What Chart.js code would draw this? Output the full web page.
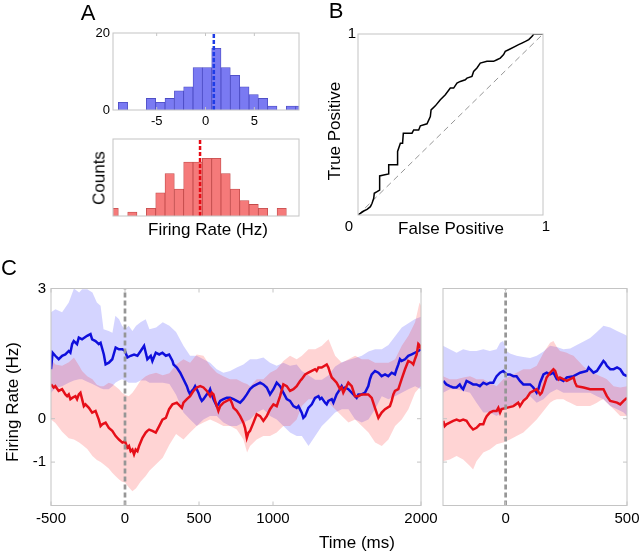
<!DOCTYPE html>
<html>
<head>
<meta charset="utf-8">
<title>Firing rate figure</title>
<script src="https://cdn.jsdelivr.net/npm/chart.js@4.4.1/dist/chart.umd.min.js"></script>
<style>
  html, body { margin: 0; padding: 0; background: #fff; }
  #fig { position: relative; width: 640px; height: 554px; overflow: hidden;
         font-family: "Liberation Sans", Arial, Helvetica, sans-serif; color: #000; }
  #fig canvas { position: absolute; left: 0; top: 0; }
  .lbl { position: absolute; white-space: nowrap; line-height: 1; transform: translate(-50%, -50%); }
  .rot { transform: translate(-50%, -50%) rotate(-90deg); }
  .panel { font-size: 22px; }
  .title { font-size: 17px; }
  .tick { font-size: 15px; }
</style>
</head>
<body>
<div id="fig">
  <canvas id="histBlue" width="640" height="554"></canvas>
  <canvas id="histRed" width="640" height="554"></canvas>
  <canvas id="roc" width="640" height="554"></canvas>
  <canvas id="rateLong" width="640" height="554"></canvas>
  <canvas id="rateShort" width="640" height="554"></canvas>

  <div class="lbl panel" style="left:88px;top:13px">A</div>
  <div class="lbl panel" style="left:336px;top:11px">B</div>
  <div class="lbl panel" style="left:9px;top:268px">C</div>
  <div class="lbl title rot" style="left:99px;top:178px">Counts</div>
  <div class="lbl title" style="left:208px;top:229px">Firing Rate (Hz)</div>
  <div class="lbl title rot" style="left:334px;top:131px">True Positive</div>
  <div class="lbl title" style="left:451px;top:228px">False Positive</div>
  <div class="lbl tick" style="left:349px;top:225px">0</div>
  <div class="lbl title rot" style="left:12px;top:402px">Firing Rate (Hz)</div>
  <div class="lbl title" style="left:357px;top:542px">Time (ms)</div>
</div>

<script>
// ---- Panel A: histograms (counts per firing-rate bin) ----
const binCenters = [-9.40, -8.45, -7.49, -6.54, -5.58, -4.62, -3.67, -2.71, -1.76, -0.80, 0.15,
                    1.11, 2.06, 3.02, 3.98, 4.93, 5.89, 6.84, 7.80, 8.75, 9.71];
const blueCounts = [0, 2, 0, 0, 3, 2, 3, 5, 6, 11, 11, 16, 11, 9, 6, 4, 3, 1, 0, 1, 1];
const redCounts  = [2, 0, 1, 0, 2, 6, 11, 7, 14, 14, 15, 15, 11, 7, 4, 3, 2, 0, 2, 0, 0];
const blueMean = 0.85;
const redMean = -0.56;
const histTicksX = [-5, 0, 5];
const histTicksY = [0, 20];

// ---- Panel B: ROC curve ----
const rocFP = [0, 0.013, 0.031, 0.049, 0.067, 0.076, 0.085, 0.088, 0.103, 0.117, 0.117, 0.139, 0.166, 0.166,
  0.214, 0.214, 0.229, 0.241, 0.245, 0.292, 0.301, 0.328, 0.337, 0.373, 0.391, 0.395, 0.418, 0.445, 0.472,
  0.499, 0.517, 0.535, 0.553, 0.580, 0.589, 0.616, 0.625, 0.643, 0.661, 0.697, 0.733, 0.751, 0.769, 0.787,
  0.796, 0.814, 0.850, 0.868, 0.886, 0.905, 0.923, 0.941, 0.950, 1.0];
const rocTP = [0, 0.009, 0.022, 0.031, 0.046, 0.065, 0.092, 0.120, 0.129, 0.138, 0.216, 0.221, 0.227, 0.277,
  0.277, 0.351, 0.397, 0.397, 0.452, 0.452, 0.470, 0.470, 0.493, 0.504, 0.544, 0.581, 0.603, 0.637, 0.664,
  0.701, 0.701, 0.729, 0.738, 0.747, 0.756, 0.766, 0.793, 0.812, 0.839, 0.849, 0.849, 0.858, 0.867, 0.886,
  0.904, 0.913, 0.932, 0.941, 0.950, 0.959, 0.969, 0.987, 1.0, 1.0];

// ---- Panel C left: -500..2000 ms ----
const blueT = [-500, -489, -471, -448, -425, -403, -380, -369, -357, -346, -324, -312, -290, -256, -233, -222,
  -199, -177, -165, -143, -131, -109, -86, -63, -41, -18, 0, 16, 38, 61, 84, 106, 129, 151, 174, 185, 208,
  231, 253, 276, 298, 321, 328, 350, 373, 395, 418, 429, 440, 451, 463, 474, 485, 496, 508, 519, 530, 553,
  564, 575, 586, 598, 609, 620, 631, 643, 665, 688, 710, 733, 755, 778, 800, 823, 845, 868, 890, 913, 935,
  958, 980, 1003, 1025, 1048, 1059, 1070, 1093, 1115, 1138, 1160, 1172, 1194, 1205, 1217, 1239, 1262, 1284,
  1307, 1318, 1329, 1352, 1363, 1374, 1397, 1408, 1430, 1453, 1464, 1475, 1487, 1509, 1543, 1565, 1577,
  1599, 1622, 1644, 1655, 1667, 1689, 1712, 1734, 1757, 1779, 1802, 1824, 1835, 1847, 1858, 1869, 1892,
  1914, 1937, 1959, 1982, 2000];
const blueV = [1.14, 1.52, 1.45, 1.37, 1.45, 1.48, 1.56, 1.52, 1.72, 1.79, 1.72, 1.87, 1.83, 1.91, 1.95, 1.83,
  1.79, 1.72, 1.75, 1.48, 1.25, 1.29, 1.37, 1.64, 1.60, 1.60, 1.56, 1.41, 1.45, 1.48, 1.45, 1.56, 1.68, 1.37,
  1.45, 1.33, 1.52, 1.48, 1.52, 1.45, 1.48, 1.33, 1.25, 1.18, 1.06, 0.91, 0.75, 0.64, 0.56, 0.64, 0.68, 0.75,
  0.68, 0.60, 0.48, 0.41, 0.45, 0.56, 0.60, 0.68, 0.56, 0.45, 0.37, 0.29, 0.33, 0.41, 0.45, 0.48, 0.48, 0.45,
  0.41, 0.37, 0.45, 0.56, 0.68, 0.75, 0.79, 0.83, 0.79, 0.72, 0.56, 0.68, 0.83, 0.75, 0.68, 0.60, 0.45, 0.41,
  0.29, 0.25, 0.29, 0.14, 0.02, 0.06, 0.25, 0.33, 0.48, 0.52, 0.45, 0.48, 0.37, 0.33, 0.41, 0.45, 0.37, 0.56,
  0.68, 0.75, 0.68, 0.72, 0.68, 0.56, 0.48, 0.56, 0.56, 0.60, 0.75, 0.91, 1.02, 1.10, 1.06, 0.98, 1.02, 0.98,
  1.06, 1.02, 1.14, 1.25, 1.37, 1.33, 1.37, 1.45, 1.48, 1.52, 1.56, 1.60];
const redT = [-500, -482, -471, -448, -425, -403, -391, -380, -369, -357, -335, -324, -312, -301, -290, -278,
  -267, -244, -222, -199, -177, -165, -154, -131, -109, -86, -63, -41, -18, 0, 16, 27, 38, 50, 61, 72, 84, 95,
  118, 140, 151, 163, 185, 208, 231, 253, 276, 298, 321, 350, 384, 395, 418, 440, 463, 485, 508, 530, 553,
  575, 586, 598, 609, 631, 643, 665, 710, 721, 733, 755, 778, 800, 811, 823, 834, 845, 868, 890, 913, 935,
  958, 980, 1003, 1025, 1048, 1070, 1093, 1115, 1138, 1160, 1183, 1194, 1217, 1239, 1262, 1284, 1295, 1307,
  1329, 1363, 1374, 1385, 1397, 1408, 1430, 1453, 1464, 1475, 1487, 1509, 1532, 1554, 1577, 1599, 1644,
  1667, 1689, 1712, 1734, 1757, 1790, 1802, 1813, 1824, 1847, 1869, 1892, 1914, 1937, 1948, 1959, 1971,
  1982, 1993, 2000];
const redV = [0.79, 0.72, 0.75, 0.64, 0.68, 0.56, 0.52, 0.56, 0.45, 0.48, 0.52, 0.45, 0.56, 0.60, 0.45, 0.29,
  0.33, 0.25, 0.14, 0.18, -0.02, -0.17, -0.13, -0.09, -0.21, -0.28, -0.40, -0.48, -0.55, -0.52, -0.67, -0.63,
  -0.75, -0.71, -0.82, -0.71, -0.75, -0.63, -0.44, -0.32, -0.28, -0.25, -0.28, -0.32, -0.17, -0.02, 0.02,
  0.22, 0.33, 0.37, 0.25, 0.37, 0.45, 0.52, 0.64, 0.72, 0.75, 0.72, 0.64, 0.52, 0.60, 0.56, 0.41, 0.18, 0.29,
  0.37, 0.45, 0.37, 0.25, 0.18, 0.06, -0.09, -0.21, -0.44, -0.32, -0.28, -0.09, 0.10, 0.06, -0.05, 0.06, 0.22,
  0.33, 0.29, 0.52, 0.79, 0.75, 0.64, 0.68, 0.75, 0.87, 0.91, 1.02, 1.06, 1.10, 1.14, 1.10, 1.18, 1.18, 1.25,
  1.18, 1.06, 0.95, 0.91, 0.83, 0.68, 0.72, 0.60, 0.68, 0.83, 0.75, 0.52, 0.52, 0.56, 0.56, 0.48, 0.25, 0.02,
  0.14, 0.22, 0.29, 0.41, 0.56, 0.64, 0.68, 0.91, 1.14, 1.33, 1.29, 1.25, 1.37, 1.48, 1.72, 1.68, 1.60];

const blueBandT = [-500, -470, -425, -380, -345, -310, -290, -255, -220, -190, -165, -145, -110, -85, -65, -40,
  -20, 0, 25, 50, 75, 105, 140, 165, 210, 255, 300, 345, 395, 440, 485, 530, 575, 620, 665, 710, 755, 800,
  845, 890, 935, 980, 1025, 1070, 1115, 1160, 1195, 1240, 1285, 1330, 1375, 1420, 1465, 1510, 1555, 1600,
  1645, 1690, 1735, 1780, 1825, 1870, 1915, 1960, 2000];
const blueHi = [2.45, 2.52, 2.45, 2.68, 3.00, 2.91, 2.98, 2.98, 2.91, 2.68, 2.60, 2.06, 2.02, 1.98, 2.37, 2.29,
  2.14, 2.06, 2.14, 2.02, 2.14, 2.22, 2.29, 2.06, 2.10, 2.22, 2.14, 2.00, 1.68, 1.45, 1.45, 1.37, 1.29, 1.14,
  1.06, 1.10, 1.18, 1.25, 1.37, 1.37, 1.41, 1.29, 1.22, 1.29, 1.22, 1.25, 1.10, 1.00, 0.90, 0.90, 1.00, 1.20,
  1.30, 1.35, 1.40, 1.45, 1.55, 1.60, 1.60, 1.70, 1.90, 2.10, 2.20, 2.30, 2.35];
const blueLo = [0.60, 0.70, 0.75, 0.83, 0.88, 0.91, 0.91, 0.85, 0.80, 0.75, 0.70, 0.68, 0.68, 0.75, 0.83, 0.88,
  0.91, 0.88, 0.83, 0.83, 0.83, 0.88, 0.88, 0.83, 0.83, 0.83, 0.80, 0.55, 0.14, -0.02, -0.17, -0.02, 0.06,
  0.06, -0.09, -0.17, -0.17, -0.09, -0.02, 0.14, 0.22, 0.06, -0.02, -0.17, -0.32, -0.40, -0.40, -0.63, -0.40,
  -0.17, -0.02, 0.14, 0.22, 0.22, -0.02, -0.09, -0.02, 0.22, 0.52, 0.45, 0.52, 0.60, 0.68, 0.75, 0.68];

const redBandT = [-500, -470, -425, -380, -345, -310, -290, -255, -220, -190, -165, -145, -110, -85, -65, -40,
  -20, 0, 25, 50, 75, 105, 140, 165, 210, 255, 300, 345, 395, 440, 485, 530, 575, 620, 665, 710, 755, 800,
  825, 845, 890, 935, 980, 1025, 1070, 1115, 1160, 1195, 1240, 1285, 1330, 1375, 1420, 1465, 1510, 1555,
  1600, 1645, 1690, 1735, 1780, 1825, 1870, 1915, 1960, 1990, 2000];
const redHi = [1.37, 1.25, 1.22, 1.30, 1.41, 1.22, 1.10, 0.98, 0.91, 0.78, 0.75, 0.75, 0.83, 0.80, 0.75, 0.68,
  0.60, 0.55, 0.52, 0.60, 0.72, 0.88, 0.98, 1.02, 1.06, 1.00, 1.05, 1.25, 1.37, 1.29, 1.48, 1.45, 1.22, 1.06,
  0.98, 0.91, 0.91, 0.83, 0.80, 0.75, 0.91, 0.91, 1.06, 1.14, 1.33, 1.45, 1.37, 1.45, 1.60, 1.60, 1.68, 1.83,
  1.45, 1.29, 1.37, 1.45, 1.37, 1.37, 1.29, 1.29, 1.29, 1.37, 1.68, 1.91, 2.22, 2.68, 2.60];
const redLo = [-0.02, -0.10, -0.30, -0.45, -0.48, -0.55, -0.60, -0.70, -0.86, -0.95, -1.00, -1.05, -1.15, -1.25,
  -1.32, -1.40, -1.45, -1.47, -1.58, -1.67, -1.60, -1.45, -1.32, -1.20, -1.05, -0.90, -0.60, -0.35, -0.48,
  -0.32, -0.17, -0.09, -0.02, -0.09, -0.17, -0.17, -0.25, -0.48, -0.78, -0.63, -0.48, -0.40, -0.40, -0.32,
  -0.17, -0.17, -0.02, 0.29, 0.45, 0.45, 0.52, 0.37, 0.22, 0.06, -0.09, -0.02, -0.17, -0.32, -0.55, -0.63,
  -0.48, -0.17, -0.02, 0.22, 0.60, 0.72, 0.75];

// ---- Panel C right: -258..500 ms ----
const shortBlueT = [-257, -244, -230, -216, -202, -189, -182, -175, -161, -147, -134, -120, -106, -92, -78, -65,
  -51, -44, -37, -23, -10, 4, 18, 32, 45, 59, 73, 101, 114, 128, 135, 142, 156, 169, 183, 197, 211, 224, 238,
  252, 280, 307, 335, 342, 348, 362, 376, 390, 403, 410, 417, 431, 445, 459, 472, 486, 500];
const shortBlueV = [0.87, 0.79, 0.75, 0.72, 0.72, 0.79, 0.72, 0.68, 0.87, 0.83, 0.79, 0.79, 0.75, 0.83, 0.79,
  0.83, 0.83, 0.91, 0.98, 1.06, 1.10, 1.02, 1.02, 0.98, 0.98, 0.87, 0.79, 0.79, 0.72, 0.60, 0.68, 0.83, 1.02,
  1.06, 1.02, 1.06, 0.91, 0.91, 0.87, 0.95, 0.98, 1.06, 1.10, 1.18, 1.14, 1.06, 1.10, 1.22, 1.33, 1.29, 1.22,
  1.14, 1.14, 1.18, 1.14, 1.02, 0.98];
const shortRedT = [-257, -251, -244, -230, -216, -202, -189, -175, -161, -147, -134, -120, -106, -92, -85, -78,
  -65, -51, -37, -30, -23, -17, 4, 32, 52, 59, 73, 87, 101, 128, 142, 149, 156, 169, 183, 197, 204, 211, 218,
  224, 252, 280, 286, 293, 321, 348, 403, 417, 431, 459, 472, 486, 500];
const shortRedV = [-0.05, -0.17, -0.13, -0.09, -0.05, -0.02, -0.05, -0.02, -0.05, -0.17, -0.25, -0.21, -0.13,
  -0.13, -0.02, 0.06, 0.14, 0.18, 0.18, 0.25, 0.14, 0.22, 0.25, 0.29, 0.37, 0.29, 0.41, 0.48, 0.60, 0.68,
  0.56, 0.60, 0.72, 0.95, 1.06, 1.14, 1.10, 0.98, 0.91, 0.95, 0.87, 0.95, 0.83, 0.75, 0.72, 0.68, 0.68, 0.52,
  0.41, 0.37, 0.33, 0.41, 0.48];

const shortBlueBandT = [-258, -230, -202, -175, -147, -120, -92, -65, -37, -23, -10, 4, 18, 45, 73, 101, 128,
  156, 183, 211, 238, 266, 293, 321, 348, 376, 403, 431, 459, 486, 500];
const shortBlueHi = [1.68, 1.60, 1.52, 1.60, 1.56, 1.56, 1.60, 1.56, 1.60, 1.75, 1.79, 1.56, 1.50, 1.45, 1.42,
  1.40, 1.45, 1.55, 1.68, 1.65, 1.60, 1.62, 1.70, 1.78, 1.86, 2.00, 2.14, 2.10, 2.02, 1.95, 1.91];
const shortBlueLo = [0.60, 0.68, 0.68, 0.64, 0.60, 0.37, 0.14, 0.14, 0.06, 0.12, 0.22, 0.25, 0.29, 0.37, 0.45,
  0.52, 0.37, 0.45, 0.60, 0.68, 0.60, 0.60, 0.60, 0.60, 0.60, 0.52, 0.45, 0.29, 0.22, 0.14, 0.06];

const shortRedBandT = [-258, -230, -202, -175, -147, -134, -120, -92, -65, -37, -10, 18, 45, 73, 101, 128, 156,
  183, 197, 211, 224, 238, 252, 266, 280, 293, 307, 321, 335, 348, 362, 376, 390, 403, 417, 445, 472, 500];
const shortRedHi = [0.98, 0.91, 0.91, 0.95, 0.98, 0.95, 0.91, 0.91, 0.83, 0.75, 0.91, 0.98, 1.06, 1.14, 1.14,
  1.22, 1.52, 1.75, 1.79, 1.65, 1.56, 1.54, 1.52, 1.48, 1.45, 1.37, 1.29, 1.20, 1.14, 1.10, 1.06, 1.02, 0.98,
  0.95, 0.91, 0.75, 0.72, 0.75];
const shortRedLo = [-0.98, -0.94, -0.86, -0.94, -1.09, -1.17, -0.98, -0.78, -0.71, -0.59, -0.55, -0.48, -0.40,
  -0.32, -0.17, -0.02, 0.18, 0.37, 0.42, 0.45, 0.45, 0.45, 0.40, 0.37, 0.33, 0.29, 0.29, 0.29, 0.29, 0.29,
  0.33, 0.37, 0.42, 0.45, 0.37, 0.22, 0.06, 0.06];

const longTicksX = [-500, 0, 500, 1000, 2000];
const shortTicksX = [0, 500];
const rateTicksY = [-1, 0, 3];

// ---- helpers ----
const W = 640, H = 554;
const AXIS_W = 40;   // room kept for y tick labels, left of each plot area
const AXIS_H = 24;   // room kept for x tick labels, under each plot area
const BLUE = 'rgb(15, 15, 220)';
const RED = 'rgb(230, 15, 25)';
const BLUE_BAND = 'rgba(0, 0, 255, 0.17)';
const RED_BAND = 'rgba(255, 0, 0, 0.17)';
const FRAME = '#c4c4c4';

Chart.defaults.font.family = '"Liberation Sans", Arial, Helvetica, sans-serif';
Chart.defaults.color = '#000';

const pts = (xs, ys) => xs.map((x, i) => ({ x: x, y: ys[i] }));

// light grey box round the plot area with small inward tick marks
const framePlugin = {
  id: 'frame',
  afterDraw(chart, args, opts) {
    if (!opts || !opts.show) return;
    const { ctx, chartArea: a, scales } = chart;
    const len = opts.len || 4;
    ctx.save();
    ctx.strokeStyle = FRAME;
    ctx.lineWidth = 1;
    ctx.strokeRect(a.left, a.top, a.right - a.left, a.bottom - a.top);
    ctx.beginPath();
    (opts.xTicks || []).forEach(v => {
      const px = scales.x.getPixelForValue(v);
      ctx.moveTo(px, a.bottom); ctx.lineTo(px, a.bottom - len);
      ctx.moveTo(px, a.top); ctx.lineTo(px, a.top + len);
    });
    (opts.yTicks || []).forEach(v => {
      const py = scales.y.getPixelForValue(v);
      ctx.moveTo(a.left, py); ctx.lineTo(a.left + len, py);
      ctx.moveTo(a.right, py); ctx.lineTo(a.right - len, py);
    });
    ctx.stroke();
    ctx.restore();
  }
};
Chart.register(framePlugin);

function axis(cfg, dir) {
  return {
    type: 'linear',
    min: cfg.min,
    max: cfg.max,
    bounds: 'data',
    offset: false,
    grid: { display: false, drawTicks: false, offset: false },
    border: { display: false },
    ticks: {
      display: cfg.showLabels !== false,
      autoSkip: false,
      maxRotation: 0,
      padding: cfg.pad || 3,
      labelOffset: cfg.labelOffset || 0,
      font: { size: cfg.size || 15 },
      color: '#000',
      callback: v => String(v)
    },
    afterBuildTicks: s => { s.ticks = (cfg.ticks || []).map(v => ({ value: v })); },
    afterFit: dir === 'x'
      ? s => { s.height = AXIS_H; s.paddingLeft = 0; s.paddingRight = 0; }
      : s => { s.width = AXIS_W; s.paddingTop = 0; s.paddingBottom = 0; }
  };
}

function options(box, xCfg, yCfg, frame) {
  return {
    responsive: false,
    animation: false,
    events: [],
    layout: { padding: { left: box.l - AXIS_W, top: box.t, right: W - box.r, bottom: H - box.b - AXIS_H } },
    plugins: { legend: { display: false }, tooltip: { enabled: false }, frame: frame },
    scales: { x: axis(xCfg, 'x'), y: axis(yCfg, 'y') }
  };
}

function meanLine(x, color) {
  return {
    type: 'line', data: [{ x: x, y: 0 }, { x: x, y: 20 }],
    borderColor: color, borderWidth: 2.5, borderDash: [4, 2], pointRadius: 0
  };
}

function histBars(counts, fill, edge) {
  return {
    type: 'bar', data: pts(binCenters, counts),
    backgroundColor: fill, borderColor: edge, borderWidth: 0.8,
    barPercentage: 1, categoryPercentage: 1
  };
}

function lineSet(xs, ys, color, width) {
  return { type: 'line', data: pts(xs, ys), borderColor: color, borderWidth: width,
           pointRadius: 0, fill: false, tension: 0 };
}

function bandSets(xs, hi, lo, color) {
  return [
    { type: 'line', data: pts(xs, hi), borderWidth: 0, pointRadius: 0, backgroundColor: color, fill: '+1' },
    { type: 'line', data: pts(xs, lo), borderWidth: 0, pointRadius: 0, fill: false }
  ];
}

function zeroLine(yMin, yMax) {
  return { type: 'line', data: [{ x: 0, y: yMin }, { x: 0, y: yMax }], borderColor: 'rgb(150, 150, 150)',
           borderWidth: 2.7, borderDash: [5, 3], pointRadius: 0 };
}

// ---- Panel A top ----
new Chart(document.getElementById('histBlue'), {
  type: 'bar',
  data: { datasets: [meanLine(blueMean, 'rgb(30, 60, 230)'),
                     histBars(blueCounts, 'rgb(122, 122, 242)', 'rgb(75, 75, 195)')] },
  options: options({ l: 113, t: 33, r: 299, b: 110 },
    { min: -9.47, max: 9.57, ticks: histTicksX, size: 13, pad: 4 },
    { min: 0, max: 20, ticks: histTicksY, size: 13, pad: 3 },
    { show: true, xTicks: histTicksX, yTicks: [], len: 3 })
});

// ---- Panel A bottom ----
new Chart(document.getElementById('histRed'), {
  type: 'bar',
  data: { datasets: [meanLine(redMean, 'rgb(230, 10, 20)'),
                     histBars(redCounts, 'rgb(245, 122, 122)', 'rgb(195, 75, 75)')] },
  options: options({ l: 113, t: 139, r: 299, b: 216 },
    { min: -9.47, max: 9.57, ticks: [], showLabels: false },
    { min: 0, max: 20, ticks: [], showLabels: false },
    { show: true })
});

// ---- Panel B ----
new Chart(document.getElementById('roc'), {
  type: 'line',
  data: { datasets: [
    lineSet(rocFP, rocTP, '#000', 1.5),
    { type: 'line', data: [{ x: 0, y: 0 }, { x: 1, y: 1 }], borderColor: 'rgb(150, 150, 150)',
      borderWidth: 1, borderDash: [6, 4], pointRadius: 0 }
  ] },
  options: options({ l: 358, t: 34, r: 543, b: 215 },
    { min: 0, max: 1, ticks: [1], pad: 3, labelOffset: 3 },
    { min: 0, max: 1, ticks: [1], pad: 2 },
    { show: true })
});

// ---- Panel C left ----
new Chart(document.getElementById('rateLong'), {
  type: 'line',
  data: { datasets: [
    zeroLine(-2, 3),
    lineSet(redT, redV, RED, 2.5),
    lineSet(blueT, blueV, BLUE, 2.5),
    ...bandSets(redBandT, redHi, redLo, RED_BAND),
    ...bandSets(blueBandT, blueHi, blueLo, BLUE_BAND)
  ] },
  options: options({ l: 51, t: 288.5, r: 421, b: 505.5 },
    { min: -500, max: 2000, ticks: longTicksX, pad: 4 },
    { min: -2, max: 3, ticks: rateTicksY, pad: 5 },
    { show: true, xTicks: longTicksX, yTicks: [-1, 0], len: 4 })
});

// ---- Panel C right ----
new Chart(document.getElementById('rateShort'), {
  type: 'line',
  data: { datasets: [
    zeroLine(-2, 3),
    lineSet(shortRedT, shortRedV, RED, 2.5),
    lineSet(shortBlueT, shortBlueV, BLUE, 2.5),
    ...bandSets(shortRedBandT, shortRedHi, shortRedLo, RED_BAND),
    ...bandSets(shortBlueBandT, shortBlueHi, shortBlueLo, BLUE_BAND)
  ] },
  options: options({ l: 443, t: 288.5, r: 627, b: 505.5 },
    { min: -258, max: 500, ticks: shortTicksX, pad: 4 },
    { min: -2, max: 3, ticks: rateTicksY, showLabels: false },
    { show: true, xTicks: shortTicksX, yTicks: [-1, 0], len: 4 })
});
</script>
</body>
</html>
